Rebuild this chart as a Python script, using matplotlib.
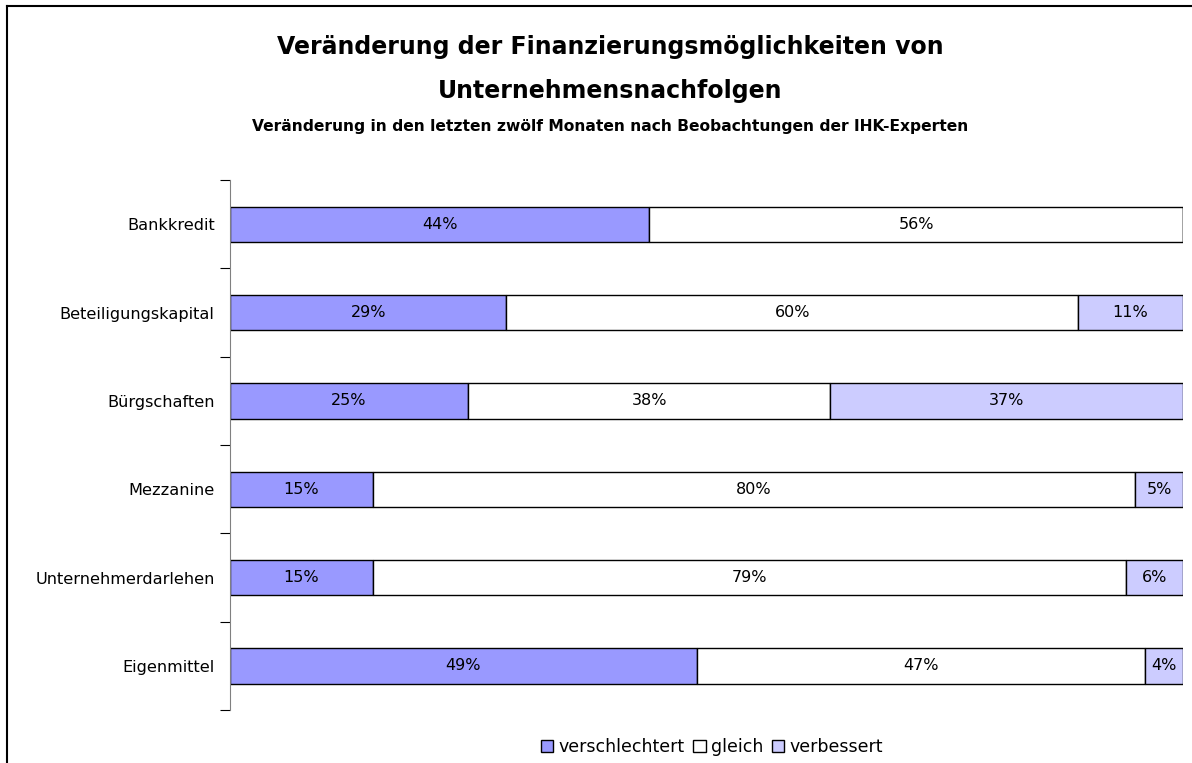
import matplotlib.pyplot as plt
from matplotlib.patches import Patch
from matplotlib.lines import Line2D

categories = ['Bankkredit', 'Beteiligungskapital', 'Bürgschaften',
              'Mezzanine', 'Unternehmerdarlehen', 'Eigenmittel']
verschlechtert = [44, 29, 25, 15, 15, 49]
gleich = [56, 60, 38, 80, 79, 47]
verbessert = [0, 11, 37, 5, 6, 4]

series = [('verschlechtert', verschlechtert, '#9999FF'),
          ('gleich', gleich, '#FFFFFF'),
          ('verbessert', verbessert, '#CCCCFF')]

fig = plt.figure(figsize=(11.92, 7.63), dpi=100)
ax = fig.add_axes([230 / 1192, 53 / 763, 953 / 1192, 530 / 763])

# outer chart frame (left and top edges visible)
fig.add_artist(Line2D([7 / 1192, 7 / 1192], [0, 1 - 6 / 763], color='black', lw=1.5,
                      transform=fig.transFigure))
fig.add_artist(Line2D([7 / 1192, 1], [1 - 6 / 763, 1 - 6 / 763], color='black', lw=1.5,
                      transform=fig.transFigure))

y = list(range(len(categories)))
left = [0] * len(categories)
for name, vals, col in series:
    ax.barh(y, vals, left=left, height=0.4, color=col, edgecolor='black', linewidth=1)
    for i, v in enumerate(vals):
        if v > 0:
            ax.text(left[i] + v / 2, i, f'{v}%', ha='center', va='center', fontsize=11.5)
    left = [l + v for l, v in zip(left, vals)]

ax.set_xlim(0, 100)
ax.set_ylim(len(categories) - 0.5, -0.5)
ax.set_xticks([])
ax.set_yticks([i - 0.5 for i in range(len(categories) + 1)])
ax.set_yticklabels([])
ax.set_yticks(y, minor=True)
ax.set_yticklabels(categories, minor=True, fontsize=11.6)
ax.tick_params(axis='y', which='major', length=7, color='black', direction='out')
ax.tick_params(axis='y', which='minor', length=0, pad=11)
for s in ['top', 'right', 'bottom']:
    ax.spines[s].set_visible(False)
ax.spines['left'].set_color('#808080')

fig.text(0.512, 1 - 47 / 763, 'Veränderung der Finanzierungsmöglichkeiten von',
         ha='center', va='center', fontsize=17, fontweight='bold')
fig.text(0.512, 1 - 91 / 763, 'Unternehmensnachfolgen',
         ha='center', va='center', fontsize=17, fontweight='bold')
fig.text(0.512, 1 - 127 / 763,
         'Veränderung in den letzten zwölf Monaten nach Beobachtungen der IHK-Experten',
         ha='center', va='center', fontsize=11.2, fontweight='bold')

handles = [Patch(facecolor=c, edgecolor='black', label=n) for n, _, c in series]
fig.legend(handles=handles, loc='center', bbox_to_anchor=(712 / 1192, 1 - 747 / 763),
           ncol=3, frameon=False, fontsize=12.5, handlelength=0.7, handleheight=0.7,
           handletextpad=0.3, columnspacing=0.5)

fig.savefig('out.png', dpi=100)
